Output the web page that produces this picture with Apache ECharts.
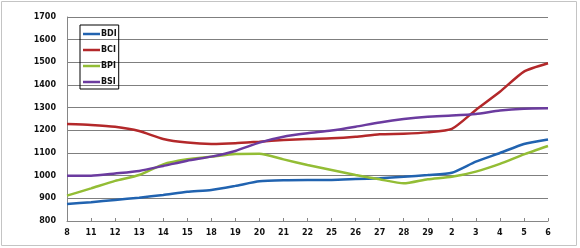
<!DOCTYPE html>
<html><head><meta charset="utf-8">
<script src="https://cdn.jsdelivr.net/npm/echarts@6/dist/echarts.min.js"></script>
<style>html,body{margin:0;padding:0;background:#fff}#c{width:580px;height:248px}</style>
</head><body><div id="c"></div>
<script>
var categories = ['8','11','12','13','14','15','18','19','20','21','22','25','26','27','28','29','2','3','4','5','6'];
var bdi = [875,883,893,903,915,929,937,955,975,980,981,981,985,989,995,1003,1013,1062,1100,1140,1160];
var bci = [1228,1224,1216,1197,1162,1146,1140,1143,1150,1157,1162,1165,1172,1183,1185,1191,1206,1290,1370,1459,1496];
var bpi = [912,944,977,1003,1050,1072,1084,1096,1097,1072,1047,1025,1003,984,966,984,995,1018,1052,1094,1131];
var bsi = [1000,1000,1010,1021,1043,1066,1084,1109,1146,1172,1187,1199,1216,1235,1250,1260,1265,1272,1287,1295,1297];
var seriesNames = ['BDI','BCI','BPI','BSI'];
var seriesData = [bdi, bci, bpi, bsi];
var colors = ['#2163b0','#b3282a','#93bd35','#6b3b9f'];

var chart = echarts.init(document.getElementById('c'), null, {renderer:'canvas'});
var font = 'DejaVu Sans';
chart.setOption({
  animation: false,
  color: colors,
  grid: {left: 67, right: 32, top: 17, bottom: 27},
  graphic: [{type:'rect', shape:{x:1.5,y:1.5,width:575,height:244}, style:{fill:'none', stroke:'#c4c4c4', lineWidth:1}, silent:true}],
  legend: {
    orient: 'vertical', left: 80, top: 25,
    data: seriesNames,
    icon: 'rect', itemWidth: 17, itemHeight: 2.5, itemGap: 8,
    padding: [5, 2, 3, 3],
    borderColor: '#000', borderWidth: 1,
    textStyle: {fontFamily: font, fontSize: 8, fontWeight: 'bold', color: '#111', padding: [0,0,0,-4]}
  },
  xAxis: {
    type: 'category', data: categories, boundaryGap: false,
    axisLine: {lineStyle: {color: '#868686', width: 1}},
    axisTick: {inside: true, length: 3, alignWithLabel: true, lineStyle: {color: '#868686'}},
    axisLabel: {fontFamily: font, fontSize: 8, fontWeight: 'bold', color: '#111', margin: 8, interval: 0},
    splitLine: {show: false}
  },
  yAxis: {
    type: 'value', min: 800, max: 1700, interval: 100,
    axisLine: {show: true, lineStyle: {color: '#868686', width: 1}},
    axisTick: {show: false},
    axisLabel: {fontFamily: font, fontSize: 8, fontWeight: 'bold', color: '#111', margin: 11,
      formatter: function(v){ return String(v); }},
    splitLine: {lineStyle: {color: '#7f7f7f', width: 1}}
  },
  series: seriesNames.map(function(n, i){
    return {name: n, type: 'line', data: seriesData[i], showSymbol: false, smooth: 0.2,
      lineStyle: {width: 2.5, color: colors[i]}, itemStyle: {color: colors[i]}};
  })
});
</script></body></html>
